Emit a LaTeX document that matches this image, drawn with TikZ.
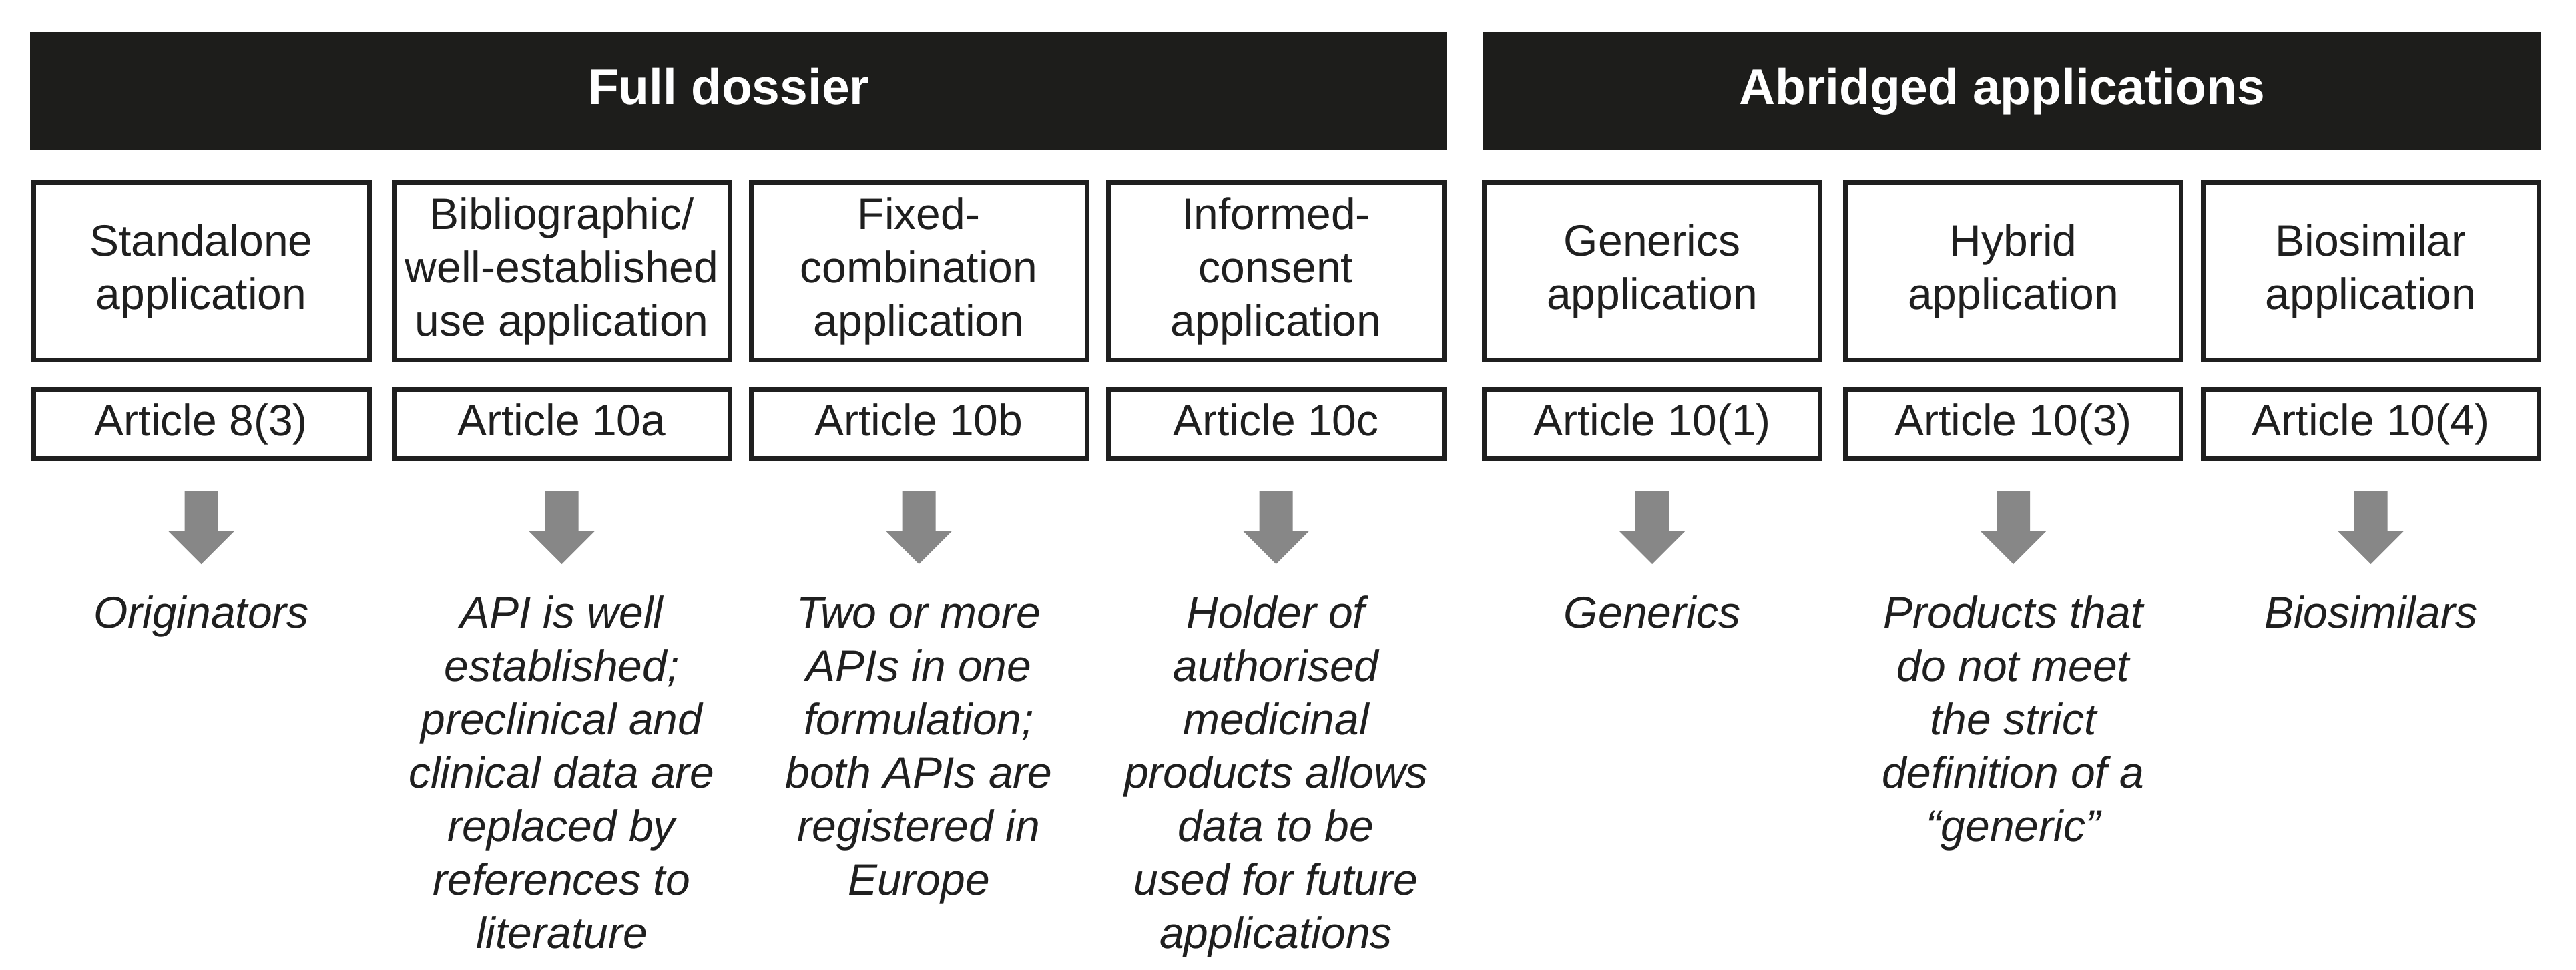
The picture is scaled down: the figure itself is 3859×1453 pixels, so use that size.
\documentclass[tikz,border=0pt]{standalone}
\usepackage{fontspec}
\setmainfont{Liberation Sans}
\usetikzlibrary{calc}
\definecolor{barblack}{HTML}{1D1D1B}
\definecolor{arrowgray}{HTML}{878787}
\definecolor{inkdark}{HTML}{1F1F1F}
\newcommand\firstln{\rule{0pt}{50pt}}
\newcommand\blockdown[1]{%
  \fill[arrowgray] ($(#1.south)+(-25,46)$) -- ($(#1.south)+(25,46)$) -- ($(#1.south)+(25,106)$)
    -- ($(#1.south)+(49,106)$) -- ($(#1.south)+(0,155)$) -- ($(#1.south)+(-49,106)$)
    -- ($(#1.south)+(-25,106)$) -- cycle;}
\begin{document}
\begin{tikzpicture}[x=1pt,y=-1pt,
  header/.style={fill=barblack, text=white, inner sep=0pt, minimum height=176pt,
    font=\fontsize{75}{90}\selectfont\bfseries, text height=54pt, text depth=12pt},
  appbox/.style={draw=inkdark, line width=7pt, text=inkdark, inner sep=0pt,
    minimum width=503pt, minimum height=266pt, align=center,
    font=\fontsize{66}{80}\selectfont},
  artbox/.style={draw=inkdark, line width=7pt, text=inkdark, inner sep=0pt,
    minimum width=503pt, minimum height=103pt, text height=48pt, text depth=14pt,
    font=\fontsize{66}{80}\selectfont},
  desc/.style={anchor=north, inner sep=0pt, align=center, text=inkdark,
    font=\fontsize{66}{80}\selectfont\itshape}]
\useasboundingbox[fill=white] (0,0) rectangle (3859,1453);

\node[header, minimum width=2123pt] (fd) at (1106.5,136) {Full dossier\hspace*{30pt}};
\node[header, minimum width=1586pt] (ab) at (3014,136) {Abridged applications\hspace*{30pt}};

\node[appbox] (t1) at (301.5,406.5) {Standalone\\application};
\node[appbox] (t2) at (841.5,406.5) {Bibliographic/\\well-established\\use application};
\node[appbox] (t3) at (1376.5,406.5) {Fixed-\\combination\\application};
\node[appbox] (t4) at (1911.5,406.5) {Informed-\\consent\\application};
\node[appbox] (t5) at (2475,406.5) {Generics\\application};
\node[appbox] (t6) at (3016,406.5) {Hybrid\\application};
\node[appbox] (t7) at (3551.5,406.5) {Biosimilar\\application};

\node[artbox] (a1) at (301.5,635) {Article 8(3)};
\node[artbox] (a2) at (841.5,635) {Article 10a};
\node[artbox] (a3) at (1376.5,635) {Article 10b};
\node[artbox] (a4) at (1911.5,635) {Article 10c};
\node[artbox] (a5) at (2475,635) {Article 10(1)};
\node[artbox] (a6) at (3016,635) {Article 10(3)};
\node[artbox] (a7) at (3551.5,635) {Article 10(4)};

\node[desc] (d1) at (301.5,890) {\firstln Originators};
\node[desc] (d2) at (841.5,890) {\firstln API is well\\established;\\preclinical and\\clinical data are\\replaced by\\references to\\literature};
\node[desc] (d3) at (1376.5,890) {\firstln Two or more\\APIs in one\\formulation;\\both APIs are\\registered in\\Europe};
\node[desc] (d4) at (1911.5,890) {\firstln Holder of\\authorised\\medicinal\\products allows\\data to be\\used for future\\applications};
\node[desc] (d5) at (2475,890) {\firstln Generics};
\node[desc] (d6) at (3016,890) {\firstln Products that\\do not meet\\the strict\\definition of a\\“generic”};
\node[desc] (d7) at (3551.5,890) {\firstln Biosimilars};

\blockdown{a1}
\blockdown{a2}
\blockdown{a3}
\blockdown{a4}
\blockdown{a5}
\blockdown{a6}
\blockdown{a7}
\end{tikzpicture}
\end{document}
